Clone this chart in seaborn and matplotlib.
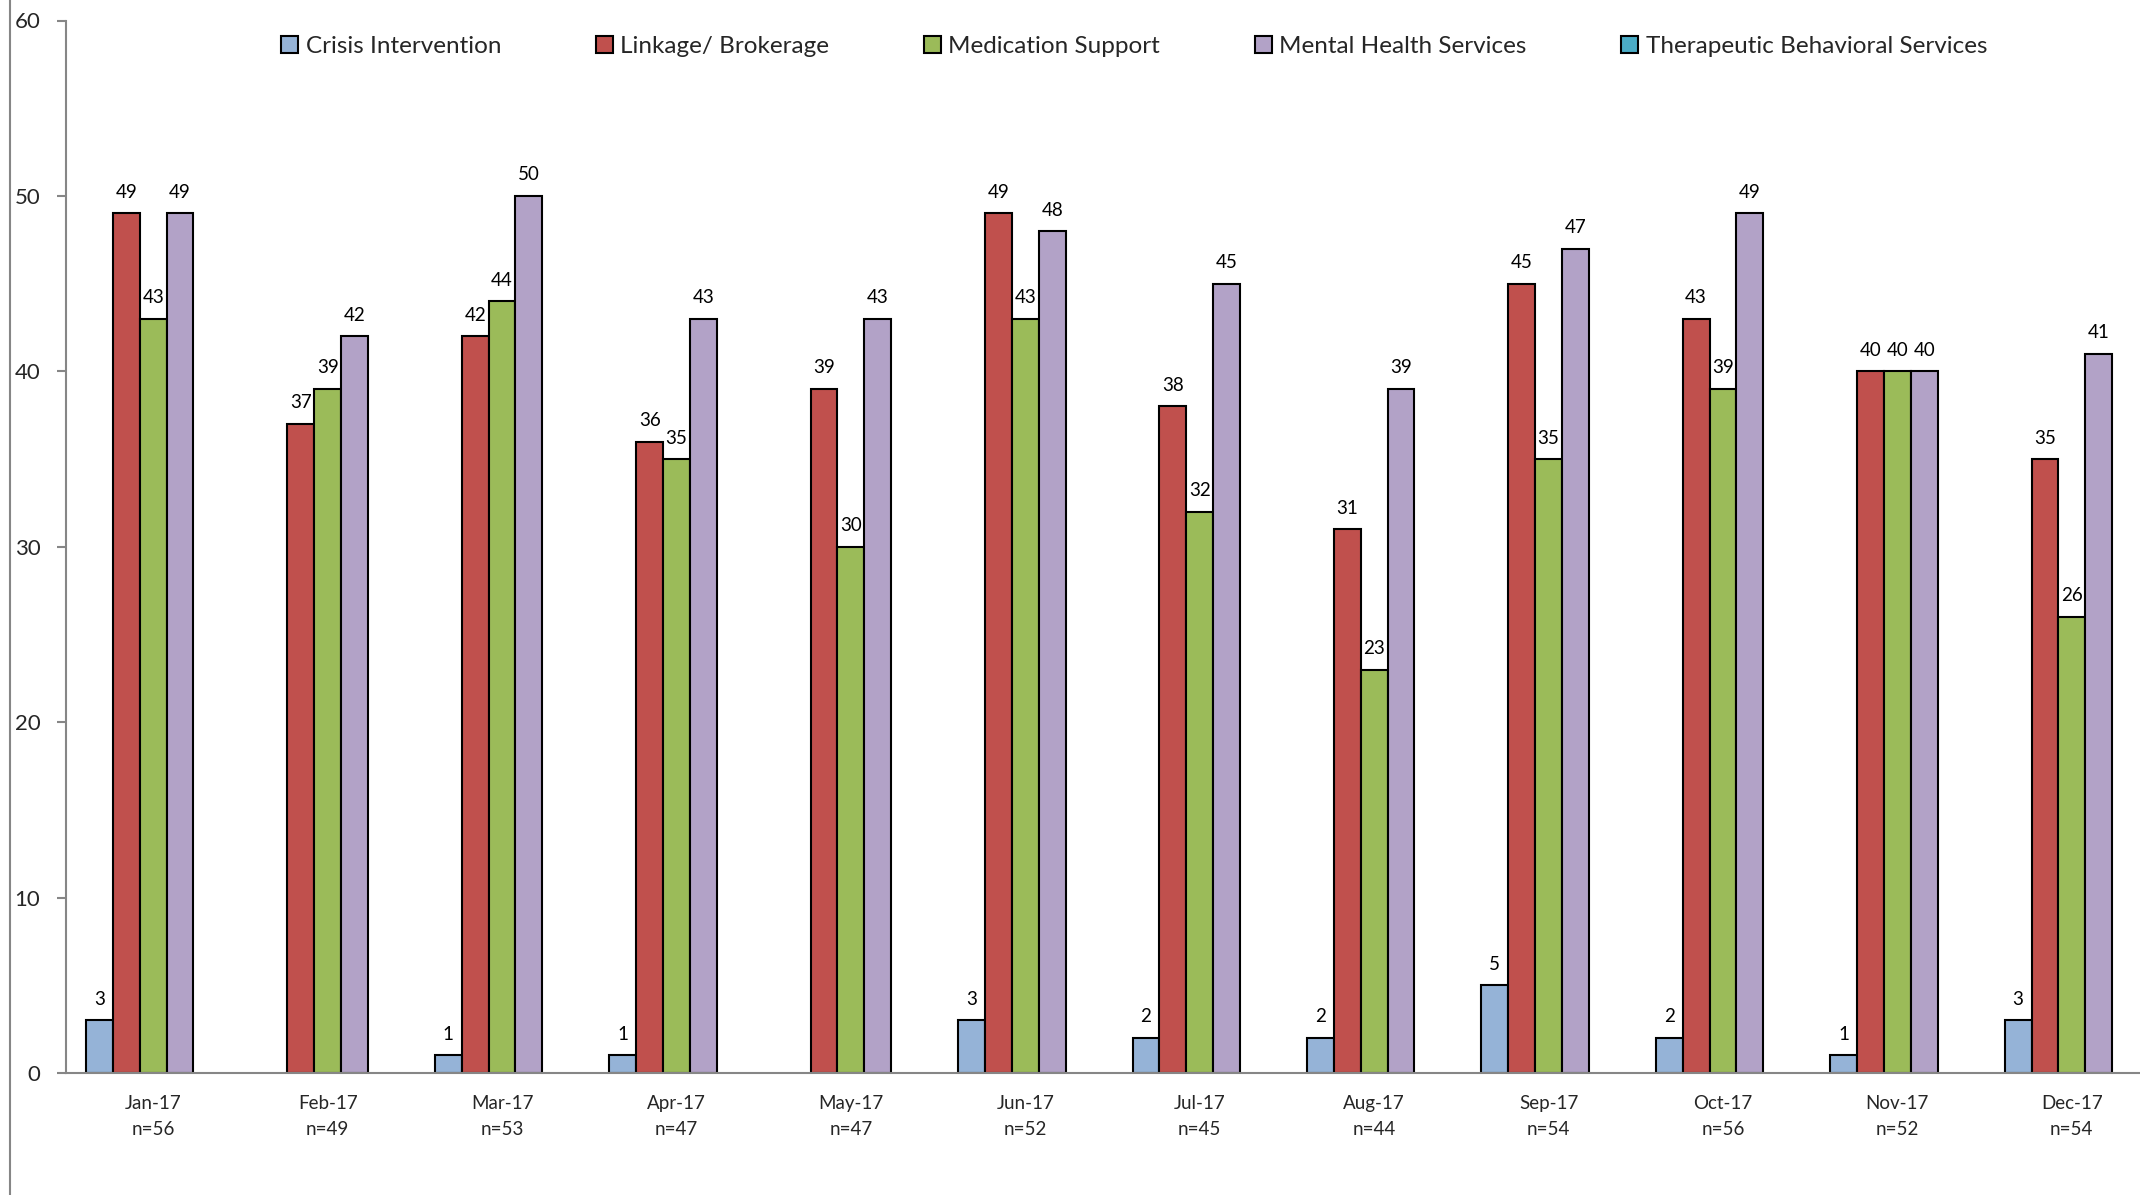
"""Service counts by month, 2017 - grouped bars per service type."""
import numpy as np
import pandas as pd
import matplotlib
matplotlib.use('Agg')
import matplotlib.pyplot as plt
import seaborn as sns
from matplotlib.lines import Line2D
from matplotlib.patches import Patch

# data (None = no bar)
months = ['Jan-17', 'Feb-17', 'Mar-17', 'Apr-17', 'May-17', 'Jun-17',
          'Jul-17', 'Aug-17', 'Sep-17', 'Oct-17', 'Nov-17', 'Dec-17']
n_counts = [56, 49, 53, 47, 47, 52, 45, 44, 54, 56, 52, 54]
services = ['Crisis Intervention', 'Linkage/ Brokerage', 'Medication Support',
            'Mental Health Services', 'Therapeutic Behavioral Services']
crisis = [3, None, 1, 1, None, 3, 2, 2, 5, 2, 1, 3]
linkage = [49, 37, 42, 36, 39, 49, 38, 31, 45, 43, 40, 35]
medication = [43, 39, 44, 35, 30, 43, 32, 23, 35, 39, 40, 26]
mental_health = [49, 42, 50, 43, 43, 48, 45, 39, 47, 49, 40, 41]
therapeutic = [None] * 12
colors = ['#95B3D7', '#C0504D', '#9BBB59', '#B2A2C7', '#4BACC6']

FONT = ['Lato', 'DejaVu Sans']
GREY = '#868686'

x_labels = [f'{m}\nn={n}' for m, n in zip(months, n_counts)]
rows = []
for svc, vals in zip(services, [crisis, linkage, medication, mental_health, therapeutic]):
    for lab, v in zip(x_labels, vals):
        if v is not None:
            rows.append({'month': lab, 'service': svc, 'value': v})
df = pd.DataFrame(rows)

sns.set_style('white')
plt.rcParams['font.family'] = FONT

fig = plt.figure(figsize=(21.4, 11.95), dpi=100)
ax = fig.add_axes([66 / 2140, 122 / 1195, 2093 / 2140, 1052.5 / 1195])

sns.barplot(data=df, x='month', y='value', hue='service', order=x_labels,
            hue_order=services, palette=colors, width=0.77, dodge=True,
            edgecolor='black', linewidth=1.5, saturation=1, errorbar=None,
            legend=False, ax=ax)

for cont in ax.containers:
    ax.bar_label(cont, fmt='%d', padding=9, fontsize=13.5, color='black')

ax.set_xlim(-0.5, 11.5)
ax.set_ylim(0, 60)
ax.set_yticks(np.arange(0, 61, 10))
ax.set_xlabel('')
ax.set_ylabel('')

# labels at group centres, tick marks between groups
ax.set_xticks(range(12))
ax.set_xticklabels(x_labels, fontsize=13.5, linespacing=1.6)
ax.set_xticks(np.arange(-0.5, 12, 1), minor=True)
ax.tick_params(axis='x', which='major', length=0, pad=16)
ax.tick_params(axis='x', which='minor', length=6, width=1.5, color=GREY, direction='out')
ax.tick_params(axis='y', length=6.5, width=1.5, color=GREY, pad=12, labelsize=16,
               direction='out', left=True)

for side in ['top', 'right']:
    ax.spines[side].set_visible(False)
for side in ['left', 'bottom']:
    ax.spines[side].set_color(GREY)
    ax.spines[side].set_linewidth(1.5)

handles = [Patch(facecolor=c, edgecolor='black', linewidth=1.5) for c in colors]
fig.legend(handles, services, loc='center', bbox_to_anchor=(0.530, 0.9607), ncol=5,
           frameon=False, fontsize=17.5, handlelength=0.7, handleheight=0.7,
           handletextpad=0.3, columnspacing=3.9)

# chart area border at the far left
fig.add_artist(Line2D([10 / 2140, 10 / 2140], [0, 1], color=GREY, lw=1.5,
                      transform=fig.transFigure))

plt.savefig('out.png', dpi=100)
plt.close()
